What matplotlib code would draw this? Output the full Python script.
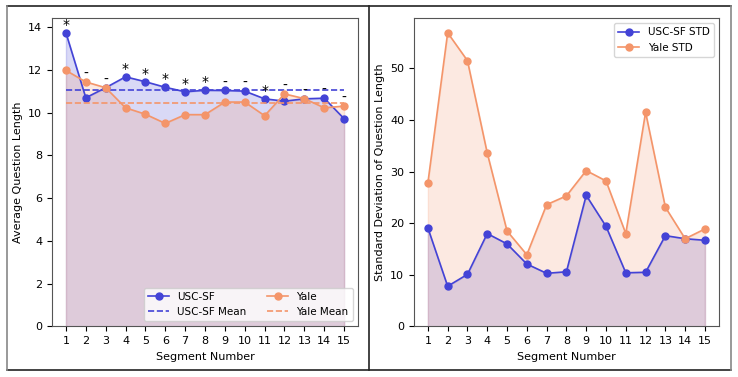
import matplotlib.pyplot as plt
import numpy as np
from matplotlib.lines import Line2D

segments = list(range(1, 16))

usc_mean_len = [13.74, 10.70, 11.17, 11.68, 11.45, 11.19, 10.98, 11.05,
                11.04, 11.01, 10.65, 10.54, 10.65, 10.68, 9.72]
yale_mean_len = [11.98, 11.44, 11.17, 10.23, 9.93, 9.50, 9.91, 9.91,
                 10.50, 10.50, 9.86, 10.88, 10.66, 10.23, 10.31]
signif = ["*", "-", "-", "*", "*", "*", "*", "*",
          "-", "-", "*", "-", "-", "-", "-"]

usc_std = [19.1, 7.8, 10.1, 18.0, 16.0, 12.1, 10.3, 10.6,
           25.4, 19.4, 10.4, 10.5, 17.6, 17.0, 16.7]
yale_std = [27.8, 56.9, 51.5, 33.6, 18.5, 13.9, 23.6, 25.3,
            30.2, 28.2, 18.0, 41.5, 23.1, 17.0, 18.9]

blue = "#4343d6"
orange = "#f4956a"

plt.rcParams["font.size"] = 8

fig = plt.figure(figsize=(7.38, 3.77), dpi=100)
ax1 = fig.add_axes([0.0705, 0.134, 0.4146, 0.818])
ax2 = fig.add_axes([0.561, 0.134, 0.413, 0.818])

# left: average length
ax1.plot(segments, usc_mean_len, "o-", color=blue, lw=1.2, ms=5, label="USC-SF")
ax1.fill_between(segments, usc_mean_len, color=blue, alpha=0.2)
ax1.hlines(np.mean(usc_mean_len), 1, 15, colors=blue, linestyles="--", lw=1.2,
           label="USC-SF Mean")
ax1.plot(segments, yale_mean_len, "o-", color=orange, lw=1.2, ms=5, label="Yale")
ax1.fill_between(segments, yale_mean_len, color=orange, alpha=0.2)
ax1.hlines(np.mean(yale_mean_len), 1, 15, colors=orange, linestyles="--", lw=1.2,
           label="Yale Mean")

for s, a, b, m in zip(segments, usc_mean_len, yale_mean_len, signif):
    ax1.text(s, max(a, b) + 0.05, m, ha="center", va="bottom", fontsize=10)

ax1.set_xticks(segments)
ax1.set_ylabel("Average Question Length")
ax1.set_xlabel("Segment Number")
ax1.legend(loc="lower right", ncol=2, fontsize=7.5)

# right: std
ax2.plot(segments, usc_std, "o-", color=blue, lw=1.2, ms=5, label="USC-SF STD")
ax2.fill_between(segments, usc_std, color=blue, alpha=0.2)
ax2.plot(segments, yale_std, "o-", color=orange, lw=1.2, ms=5, label="Yale STD")
ax2.fill_between(segments, yale_std, color=orange, alpha=0.2)
ax2.set_xticks(segments)
ax2.set_ylabel("Standard Deviation of Question Length")
ax2.set_xlabel("Segment Number")
ax2.legend(loc="upper right", fontsize=7.5)

for ax in (ax1, ax2):
    top = max(ax.get_ylim()[1], 0)
    ax.set_ylim(0, top)
    for sp in ax.spines.values():
        sp.set_color("#555555")

# frame lines around the two panels
W, H = 738, 377
def px_line(x0, y0, x1, y1, color):
    fig.add_artist(Line2D([x0 / W, x1 / W], [1 - y0 / H, 1 - y1 / H],
                          transform=fig.transFigure, color=color, lw=1.2))

px_line(7, 6, 731, 6, "#222222")
px_line(7, 369.5, 731, 369.5, "#222222")
px_line(7, 6, 7, 369.5, "#888888")
px_line(731, 6, 731, 369.5, "#888888")
px_line(368.5, 6, 368.5, 369.5, "#222222")

fig.savefig("out.png", dpi=100)
